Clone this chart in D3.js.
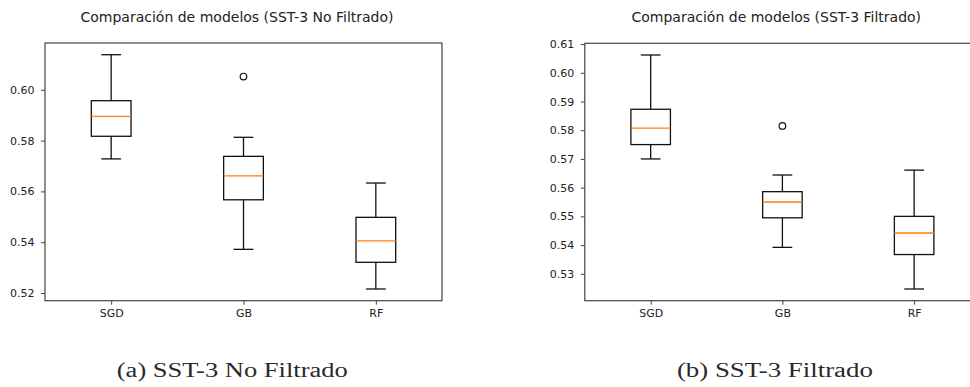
<!DOCTYPE html>
<html><head><meta charset="utf-8">
<script src="https://cdn.jsdelivr.net/npm/d3@7"></script>
<style>body{margin:0;background:#fff;} svg{display:block;}</style>
</head><body>
<svg id="chart" width="970" height="387"></svg>
<script>
const categories = ["SGD", "GB", "RF"];

// Panel (a): SST-3 No Filtrado
const noFiltWhiskerLow  = [0.5728, 0.5372, 0.5216];
const noFiltQ1          = [0.5817, 0.5567, 0.5321];
const noFiltMedian      = [0.5895, 0.5661, 0.5405];
const noFiltQ3          = [0.5957, 0.5738, 0.5498];
const noFiltWhiskerHigh = [0.6138, 0.5813, 0.5633];
const noFiltOutliers    = [[], [0.6052], []];
const noFiltTicks       = [0.52, 0.54, 0.56, 0.58, 0.60];

// Panel (b): SST-3 Filtrado
const filtWhiskerLow  = [0.5700, 0.5392, 0.5247];
const filtQ1          = [0.5750, 0.5495, 0.5367];
const filtMedian      = [0.5807, 0.5550, 0.5442];
const filtQ3          = [0.5873, 0.5586, 0.5500];
const filtWhiskerHigh = [0.6062, 0.5644, 0.5661];
const filtOutliers    = [[], [0.5815], []];
const filtTicks       = [0.53, 0.54, 0.55, 0.56, 0.57, 0.58, 0.59, 0.60, 0.61];

const panelTitles = ["Comparación de modelos (SST-3 No Filtrado)", "Comparación de modelos (SST-3 Filtrado)"];
const captions = ["(a) SST-3 No Filtrado", "(b) SST-3 Filtrado"];

const svg = d3.select("#chart");
svg.append("rect").attr("width", 970).attr("height", 387).attr("fill", "#fff");

const panels = [
  { left: 45, right: 442, top: 43, bottom: 300.7, wl: noFiltWhiskerLow, q1: noFiltQ1, med: noFiltMedian, q3: noFiltQ3, wh: noFiltWhiskerHigh, out: noFiltOutliers, ticks: noFiltTicks, title: panelTitles[0], titleX: 237, caption: captions[0], capX: 232.3, capW: 231 },
  { left: 584.8, right: 980, top: 43.3, bottom: 300.7, wl: filtWhiskerLow, q1: filtQ1, med: filtMedian, q3: filtQ3, wh: filtWhiskerHigh, out: filtOutliers, ticks: filtTicks, title: panelTitles[1], titleX: 776.3, caption: captions[1], capX: 774.9, capW: 196 }
];

const font = "'DejaVu Sans', sans-serif";

panels.forEach(p => {
  const all = [].concat(p.wl, p.wh, ...p.out);
  const lo = d3.min(all), hi = d3.max(all);
  const m = (hi - lo) * 0.05;
  const y = d3.scaleLinear().domain([lo - m, hi + m]).range([p.bottom, p.top]);
  const x = d3.scaleLinear().domain([0.5, 3.5]).range([p.left, p.right]);
  const g = svg.append("g");

  // axes
  const yAxis = d3.axisLeft(y).tickValues(p.ticks).tickFormat(d3.format(".2f")).tickSize(4).tickPadding(6.5);
  const ya = g.append("g").attr("transform", `translate(${p.left},0)`).call(yAxis);
  const xAxis = d3.axisBottom(x).tickValues([1, 2, 3]).tickFormat((d, i) => categories[i]).tickSize(4).tickPadding(4.5);
  const xa = g.append("g").attr("transform", `translate(0,${p.bottom})`).call(xAxis);
  [ya, xa].forEach(a => {
    a.select(".domain").remove();
    a.selectAll("line").attr("stroke", "#444").attr("stroke-width", 1);
    a.selectAll("text").attr("fill", "#222").style("font-family", font).style("font-size", "11px");
  });

  // frame
  g.append("rect").attr("x", p.left).attr("y", p.top)
    .attr("width", p.right - p.left).attr("height", p.bottom - p.top)
    .attr("fill", "none").attr("stroke", "#444").attr("stroke-width", 1.2);

  // boxes
  const bw = x(1.15) - x(1);
  const cw = x(1.075) - x(1);
  categories.forEach((c, i) => {
    const cx = x(i + 1);
    const stroke = "#111", sw = 1.3;
    g.append("line").attr("x1", cx).attr("x2", cx).attr("y1", y(p.q3[i])).attr("y2", y(p.wh[i])).attr("stroke", stroke).attr("stroke-width", sw);
    g.append("line").attr("x1", cx).attr("x2", cx).attr("y1", y(p.q1[i])).attr("y2", y(p.wl[i])).attr("stroke", stroke).attr("stroke-width", sw);
    g.append("line").attr("x1", cx - cw).attr("x2", cx + cw).attr("y1", y(p.wh[i])).attr("y2", y(p.wh[i])).attr("stroke", stroke).attr("stroke-width", sw);
    g.append("line").attr("x1", cx - cw).attr("x2", cx + cw).attr("y1", y(p.wl[i])).attr("y2", y(p.wl[i])).attr("stroke", stroke).attr("stroke-width", sw);
    g.append("rect").attr("x", cx - bw).attr("width", 2 * bw)
      .attr("y", y(p.q3[i])).attr("height", y(p.q1[i]) - y(p.q3[i]))
      .attr("fill", "none").attr("stroke", stroke).attr("stroke-width", sw);
    g.append("line").attr("x1", cx - bw).attr("x2", cx + bw).attr("y1", y(p.med[i])).attr("y2", y(p.med[i])).attr("stroke", "#ff7f0e").attr("stroke-width", 1.3);
    p.out[i].forEach(v => {
      g.append("circle").attr("cx", cx).attr("cy", y(v)).attr("r", 3.3)
        .attr("fill", "none").attr("stroke", stroke).attr("stroke-width", 1.2);
    });
  });

  // title
  g.append("text").attr("x", p.titleX).attr("y", 21.5).attr("text-anchor", "middle")
    .style("font-family", font).style("font-size", "14px").attr("fill", "#222").text(p.title);

  // caption
  g.append("text").attr("x", p.capX).attr("y", 377).attr("text-anchor", "middle")
    .style("font-family", "'Liberation Serif', serif").style("font-size", "20px").attr("fill", "#2a2a2a")
    .attr("textLength", p.capW).attr("lengthAdjust", "spacingAndGlyphs").text(p.caption);
});
</script>
</body></html>
